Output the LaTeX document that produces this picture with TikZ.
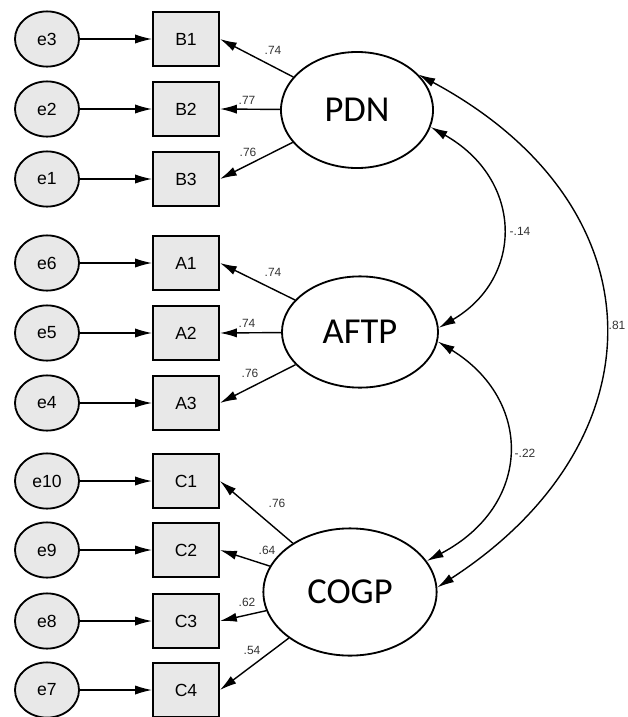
\documentclass[tikz,border=0pt]{standalone}
\usepackage{fontspec}
\setmainfont{Liberation Sans}
\newfontfamily\latentfont{Carlito}
\usetikzlibrary{shapes.geometric, arrows.meta}

\definecolor{boxgray}{HTML}{E8E8E8}
\definecolor{labgray}{HTML}{333333}

\tikzset{
  obsbox/.style={draw, line width=1.3pt, fill=boxgray, minimum width=1.65cm,
    minimum height=1.35cm, inner sep=0pt, font=\fontsize{12.5}{13}\selectfont},
  errterm/.style={draw, ellipse, line width=1.3pt, fill=boxgray, minimum width=1.6cm,
    minimum height=1.38cm, inner sep=0pt, font=\fontsize{12.5}{13}\selectfont},
  latent/.style={draw, ellipse, line width=1.3pt, fill=white, inner sep=0pt,
    font=\latentfont\fontsize{26}{27}\selectfont},
  loadlab/.style={text=labgray, inner sep=0pt, font=\fontsize{8.5}{9}\selectfont}
}

\begin{document}
\begin{tikzpicture}[x=0.025cm, y=-0.025cm, line width=1pt,
    >={Latex[length=12pt, width=6.5pt]}]
    \useasboundingbox (0,0) rectangle (627,717);

    % Observed variables with their error terms
    \foreach \err/\obs/\y in {e3/B1/39, e2/B2/109, e1/B3/179,
        e6/A1/263, e5/A2/333, e4/A3/403,
        e10/C1/481, e9/C2/550, e8/C3/621, e7/C4/690} {
        \node[errterm] (\err) at (47,\y) {\err};
        \node[obsbox] (\obs) at (186,\y) {\obs};
        \draw[->] (\err) -- (\obs);
    }

    % Latent factors
    \node[latent, minimum width=3.8cm, minimum height=2.9cm] (PDN) at (357,110) {PDN};
    \node[latent, minimum width=3.9cm, minimum height=2.78cm] (AFTP) at (360,332) {AFTP};
    \node[latent, minimum width=4.33cm, minimum height=3.18cm] (COGP) at (350,592) {COGP};

    % Loadings of PDN
    \draw[->] (PDN) -- (B1.east);
    \draw[->] (PDN) -- (B2.east);
    \draw[->] (PDN) -- (B3.east);
    \node[loadlab] (lb1) at (273,50) {.74};
    \node[loadlab] (lb2) at (247,100) {.77};
    \node[loadlab] (lb3) at (248,152) {.76};

    % Loadings of AFTP
    \draw[->] (AFTP) -- (A1.east);
    \draw[->] (AFTP) -- (A2.east);
    \draw[->] (AFTP) -- (A3.east);
    \node[loadlab] (la1) at (273,272) {.74};
    \node[loadlab] (la2) at (247,323) {.74};
    \node[loadlab] (la3) at (250,373) {.76};

    % Loadings of COGP
    \draw[->] (COGP) -- (C1.east);
    \draw[->] (COGP) -- (C2.east);
    \draw[->] (COGP) -- (C3.east);
    \draw[->] (COGP) -- (C4.east);
    \node[loadlab] (lc1) at (277,503) {.76};
    \node[loadlab] (lc2) at (267,550) {.64};
    \node[loadlab] (lc3) at (247,602) {.62};
    \node[loadlab] (lc4) at (252,650) {.54};

    % Covariances between the factors
    \draw[<->] (PDN.-13) .. controls (524,180) and (524,278) .. (AFTP.3);
    \draw[<->] (AFTP.-7) .. controls (533,400) and (533,505) .. (COGP.22);
    \draw[<->] (PDN.30) .. controls (663,206) and (663,441) .. (COGP.3);
    \node[loadlab] (c12) at (520,231) {-.14};
    \node[loadlab] (c23) at (525,453) {-.22};
    \node[loadlab] (c13) at (617,325) {.81};
\end{tikzpicture}
\end{document}
